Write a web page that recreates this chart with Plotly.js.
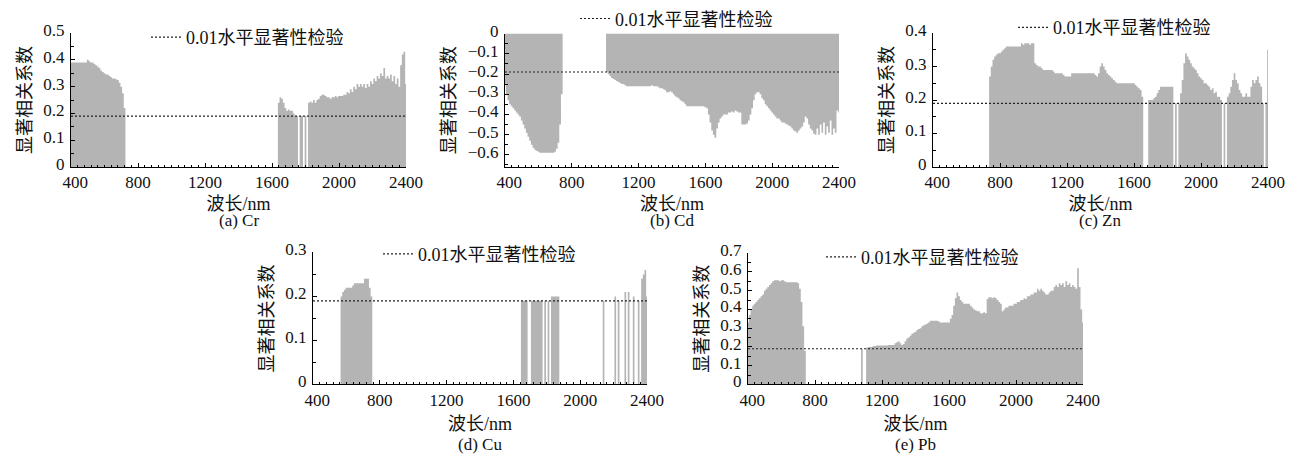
<!DOCTYPE html>
<html>
<head>
<meta charset="utf-8">
<script src="https://cdn.plot.ly/plotly-3.0.1.min.js"></script>
<style>
html,body{margin:0;padding:0;background:#fff;}
#chart{width:1297px;height:455px;}
</style>
</head>
<body>
<div id="chart"></div>
<script>
// Wavelength grid (nm), 10 nm step from 400 to 2400
const wavelengthStart = 400, wavelengthStep = 10, wavelengthCount = 201;
const wavelengths = Array.from({length: wavelengthCount}, (_, i) => wavelengthStart + wavelengthStep * i);

// Significant correlation coefficients (0 = not significant)
const cr = [
0.39,0.39,0.39,0.39,0.39,0.39,0.39,0.39,0.39,0.39,
0.40,0.395,0.39,0.39,0.385,0.38,0.375,0.37,0.36,0.355,
0.35,0.345,0.345,0.34,0.335,0.33,0.33,0.328,0.325,0.315,
0.30,0.275,0.22,0,0,0,0,0,0,0,
0,0,0,0,0,0,0,0,0,0,
0,0,0,0,0,0,0,0,0,0,
0,0,0,0,0,0,0,0,0,0,
0,0,0,0,0,0,0,0,0,0,
0,0,0,0,0,0,0,0,0,0,
0,0,0,0,0,0,0,0,0,0,
0,0,0,0,0,0,0,0,0,0,
0,0,0,0,0,0,0,0,0,0,
0,0,0,0,0.24,0.26,0.255,0.24,0.22,0.21,
0.215,0.21,0.21,0.20,0.19,0.19,0,0.19,0.19,0,
0.19,0,0.24,0.245,0.24,0.25,0.24,0.25,0.255,0.265,
0.27,0.27,0.265,0.26,0.26,0.255,0.26,0.26,0.265,0.26,
0.265,0.265,0.265,0.27,0.27,0.28,0.275,0.29,0.28,0.30,
0.29,0.31,0.30,0.31,0.30,0.31,0.295,0.31,0.30,0.32,
0.31,0.33,0.32,0.34,0.33,0.35,0.34,0.37,0.33,0.34,
0.33,0.345,0.32,0.34,0.31,0.33,0.30,0.38,0.42,0.43,
0.31];

const cd = [
-0.25,-0.30,-0.33,-0.35,-0.36,-0.37,-0.38,-0.39,-0.40,-0.41,
-0.43,-0.45,-0.47,-0.49,-0.51,-0.53,-0.55,-0.565,-0.575,-0.58,
-0.585,-0.59,-0.59,-0.59,-0.59,-0.59,-0.59,-0.59,-0.59,-0.59,
-0.585,-0.57,-0.54,-0.45,-0.30,0,0,0,0,0,
0,0,0,0,0,0,0,0,0,0,
0,0,0,0,0,0,0,0,0,0,
0,-0.19,-0.20,-0.21,-0.22,-0.225,-0.23,-0.235,-0.24,-0.245,
-0.25,-0.25,-0.255,-0.26,-0.26,-0.26,-0.26,-0.26,-0.26,-0.26,
-0.26,-0.26,-0.26,-0.26,-0.26,-0.26,-0.26,-0.26,-0.255,-0.26,
-0.26,-0.26,-0.265,-0.27,-0.27,-0.275,-0.28,-0.29,-0.29,-0.285,
-0.29,-0.30,-0.31,-0.315,-0.32,-0.33,-0.335,-0.34,-0.35,-0.36,
-0.36,-0.36,-0.36,-0.36,-0.36,-0.36,-0.36,-0.36,-0.36,-0.36,
-0.365,-0.37,-0.40,-0.44,-0.48,-0.50,-0.515,-0.47,-0.44,-0.42,
-0.41,-0.40,-0.40,-0.40,-0.39,-0.39,-0.385,-0.39,-0.38,-0.385,
-0.39,-0.39,-0.45,-0.45,-0.45,-0.445,-0.43,-0.40,-0.37,-0.33,
-0.30,-0.29,-0.29,-0.30,-0.32,-0.33,-0.35,-0.36,-0.37,-0.38,
-0.39,-0.40,-0.41,-0.42,-0.42,-0.43,-0.44,-0.44,-0.445,-0.45,
-0.455,-0.46,-0.47,-0.48,-0.485,-0.49,-0.48,-0.47,-0.46,-0.44,
-0.41,-0.42,-0.45,-0.47,-0.48,-0.495,-0.50,-0.47,-0.50,-0.45,
-0.49,-0.44,-0.50,-0.46,-0.49,-0.43,-0.50,-0.47,-0.49,-0.38,
-0.39];

const zn = [
0,0,0,0,0,0,0,0,0,0,
0,0,0,0,0,0,0,0,0,0,
0,0,0,0,0,0,0,0,0,0,
0,0,0,0,0.27,0.30,0.32,0.33,0.335,0.34,
0.34,0.345,0.35,0.355,0.36,0.36,0.36,0.36,0.36,0.36,
0.36,0.36,0.36,0.37,0.365,0.37,0.37,0.37,0.365,0.37,
0.37,0.31,0.305,0.30,0.30,0.295,0.29,0.29,0.29,0.29,
0.29,0.29,0.285,0.28,0.28,0.28,0.28,0.28,0.275,0.27,
0.27,0.27,0.27,0.28,0.28,0.28,0.28,0.28,0.28,0.28,
0.28,0.28,0.28,0.28,0.28,0.28,0.28,0.275,0.27,0.28,
0.30,0.31,0.30,0.29,0.28,0.275,0.27,0.265,0.26,0.255,
0.25,0.25,0.25,0.25,0.25,0.25,0.25,0.25,0.25,0.25,
0.25,0.245,0.24,0.235,0.23,0.21,0,0,0,0.20,
0.20,0.20,0.205,0.21,0.22,0.23,0.24,0.24,0.24,0.24,
0.24,0.24,0.24,0.24,0,0.19,0,0.19,0.22,0.26,
0.31,0.34,0.33,0.32,0.31,0.30,0.295,0.29,0.28,0.27,
0.265,0.26,0.25,0.25,0.245,0.24,0.23,0.235,0.22,0.225,
0.21,0.21,0.20,0,0.19,0,0.21,0.22,0.24,0.26,
0.28,0.26,0.25,0.23,0.22,0.21,0.21,0.22,0.21,0.21,
0.24,0.26,0.25,0.26,0.27,0.25,0.24,0.19,0,0.19,
0.35];

const cu = [
0,0,0,0,0,0,0,0,0,0,
0,0,0,0,0,0,0,0.20,0.21,0.215,
0.22,0.22,0.22,0.22,0.225,0.23,0.23,0.23,0.23,0.23,
0.23,0.24,0.24,0.24,0.22,0.20,0,0,0,0,
0,0,0,0,0,0,0,0,0,0,
0,0,0,0,0,0,0,0,0,0,
0,0,0,0,0,0,0,0,0,0,
0,0,0,0,0,0,0,0,0,0,
0,0,0,0,0,0,0,0,0,0,
0,0,0,0,0,0,0,0,0,0,
0,0,0,0,0,0,0,0,0,0,
0,0,0,0,0,0,0,0,0,0,
0,0,0,0,0,0.19,0.19,0.19,0.19,0,
0,0.19,0.19,0.19,0.19,0.19,0.19,0.19,0,0.19,
0,0.19,0,0.20,0.20,0.20,0.20,0.20,0,0,
0,0,0,0,0,0,0,0,0,0,
0,0,0,0,0,0,0,0,0,0,
0,0,0,0,0.19,0,0,0,0,0,
0,0.20,0,0.19,0,0,0,0.21,0,0.21,
0,0,0.20,0,0,0.19,0,0.24,0.25,0.26,
0.20];

const pb = [
0.33,0.37,0.40,0.42,0.43,0.44,0.45,0.46,0.47,0.48,
0.50,0.51,0.52,0.53,0.54,0.55,0.555,0.555,0.555,0.55,
0.555,0.555,0.55,0.545,0.545,0.545,0.545,0.545,0.545,0.545,
0.54,0.51,0.44,0.31,0.18,0,0,0,0,0,
0,0,0,0,0,0,0,0,0,0,
0,0,0,0,0,0,0,0,0,0,
0,0,0,0,0,0,0,0,0.19,0,
0,0.195,0.20,0.20,0.20,0.205,0.205,0.207,0.207,0.207,
0.207,0.207,0.207,0.207,0.21,0.21,0.21,0.21,0.22,0.225,
0.23,0.22,0.21,0.215,0.23,0.245,0.25,0.26,0.27,0.275,
0.28,0.29,0.295,0.30,0.31,0.315,0.32,0.325,0.33,0.34,
0.34,0.34,0.34,0.34,0.335,0.33,0.33,0.33,0.33,0.33,
0.33,0.35,0.37,0.42,0.46,0.49,0.47,0.45,0.44,0.43,
0.43,0.43,0.43,0.42,0.41,0.40,0.395,0.39,0.39,0.38,
0.38,0.385,0.38,0.455,0.465,0.465,0.46,0.465,0.46,0.45,
0.44,0.43,0.39,0.40,0.41,0.41,0.42,0.42,0.42,0.43,
0.43,0.44,0.44,0.45,0.45,0.46,0.455,0.47,0.47,0.48,
0.48,0.49,0.49,0.51,0.50,0.51,0.50,0.49,0.48,0.48,
0.49,0.50,0.50,0.52,0.53,0.52,0.54,0.53,0.54,0.52,
0.55,0.53,0.54,0.52,0.53,0.52,0.51,0.62,0.52,0.40,
0.33];

// 0.01-level significance thresholds
const thresholdCr = 0.19, thresholdCd = -0.19, thresholdZn = 0.19, thresholdCu = 0.19, thresholdPb = 0.19;

// Text
const captions = ['(a) Cr', '(b) Cd', '(c) Zn', '(d) Cu', '(e) Pb'];
const xTitle = '波长/nm';
const yTitle = '显著相关系数';
const legendLabel = '0.01水平显著性检验';
const xTickVals = [400, 800, 1200, 1600, 2000, 2400];
const xTickText = ['\u2007400', '800', '1200', '1600', '2000', '2400'];

// ---------- layout geometry (pixels of a 1297x455 canvas) ----------
const W = 1297, H = 455;
const px = v => v / W, py = v => 1 - v / H;
const panels = [
  {vals: cr, thr: thresholdCr, xd: [71, 406], yd: [162.5, 26.5], yr: [0, 0.5], leg: [146, 31], cap: 217, xst: 5},
  {vals: cd, thr: thresholdCd, xd: [505, 839], yd: [162.5, 27], yr: [-0.66, 0], leg: [575, 12], cap: 217, xst: 5},
  {vals: zn, thr: thresholdZn, xd: [933, 1268], yd: [162.5, 26.5], yr: [0, 0.4], leg: [1013, 21], cap: 217, xst: 5},
  {vals: cu, thr: thresholdCu, xd: [313, 647], yd: [383.3, 249.3], yr: [0, 0.3], leg: [378, 251], cap: 444, xst: 8},
  {vals: pb, thr: thresholdPb, xd: [748, 1083], yd: [383.3, 250], yr: [0, 0.7], leg: [821, 254], cap: 444, xst: 8}
];

const FONT = "'Liberation Serif', 'Noto Sans CJK SC', serif";
const data = [];
const layout = {
  width: W, height: H,
  margin: {l: 0, r: 0, t: 0, b: 0},
  paper_bgcolor: '#ffffff', plot_bgcolor: 'rgba(0,0,0,0)',
  font: {family: FONT, color: '#111', size: 17},
  showlegend: true,
  annotations: []
};

panels.forEach((p, i) => {
  const n = i + 1, sfx = n === 1 ? '' : String(n);
  const xa = 'x' + sfx, ya = 'y' + sfx;
  if (p.vals.length !== wavelengthCount) console.error('length mismatch', i, p.vals.length);
  data.push({
    type: 'scatter', mode: 'lines', x: wavelengths, y: p.vals,
    xaxis: xa, yaxis: ya, line: {shape: 'hvh', width: 0, color: '#b4b4b4'},
    fill: 'tozeroy', fillcolor: '#b4b4b4', showlegend: false, hoverinfo: 'skip'
  });
  data.push({
    type: 'scatter', mode: 'lines', x: [wavelengthStart, 2400], y: [p.thr, p.thr],
    xaxis: xa, yaxis: ya, name: legendLabel, legend: 'legend' + sfx,
    line: {color: '#222', width: 1.2, dash: '2px,2px'}, hoverinfo: 'skip'
  });
  layout['xaxis' + sfx] = {
    domain: [px(p.xd[0]), px(p.xd[1])], anchor: ya, range: [400, 2400],
    tickvals: xTickVals, ticktext: xTickText,
    ticks: 'inside', ticklen: 4, tickwidth: 1, tickcolor: '#000',
    minor: {dtick: 40, tick0: 400, ticks: 'inside', ticklen: 2.5, tickcolor: '#000'},
    showline: true, linecolor: '#000', linewidth: 1, showgrid: false, zeroline: false,
    tickfont: {size: 17, family: FONT},
    title: {text: xTitle, font: {size: 18, family: FONT}, standoff: p.xst}, fixedrange: true
  };
  layout['yaxis' + sfx] = {
    domain: [py(p.yd[0]), py(p.yd[1])], anchor: xa, range: p.yr,
    tick0: 0, dtick: 0.1, ticks: 'inside', ticklen: 4, tickwidth: 1, tickcolor: '#000',
    minor: {dtick: 0.05, tick0: 0, ticks: 'inside', ticklen: 2.5, tickcolor: '#000'},
    showline: true, linecolor: '#000', linewidth: 1, showgrid: false, zeroline: false,
    tickfont: {size: 17, family: FONT}, ticklabelstandoff: 2, ticklabelshift: -3,
    title: {text: yTitle, font: {size: 18, family: FONT}, standoff: 7}, fixedrange: true
  };
  layout['legend' + sfx] = {
    x: px(p.leg[0]), y: py(p.leg[1]), xanchor: 'left', yanchor: 'middle',
    bgcolor: 'rgba(0,0,0,0)', borderwidth: 0, font: {size: 18, family: FONT},
    itemwidth: 30, tracegroupgap: 0
  };
  layout.annotations.push({
    text: captions[i], xref: 'paper', yref: 'paper',
    x: px((p.xd[0] + p.xd[1]) / 2), y: py(p.cap), xanchor: 'center', yanchor: 'middle',
    showarrow: false, font: {size: 17, family: FONT}
  });
});

Plotly.newPlot('chart', data, layout, {staticPlot: true});
</script>
</body>
</html>
